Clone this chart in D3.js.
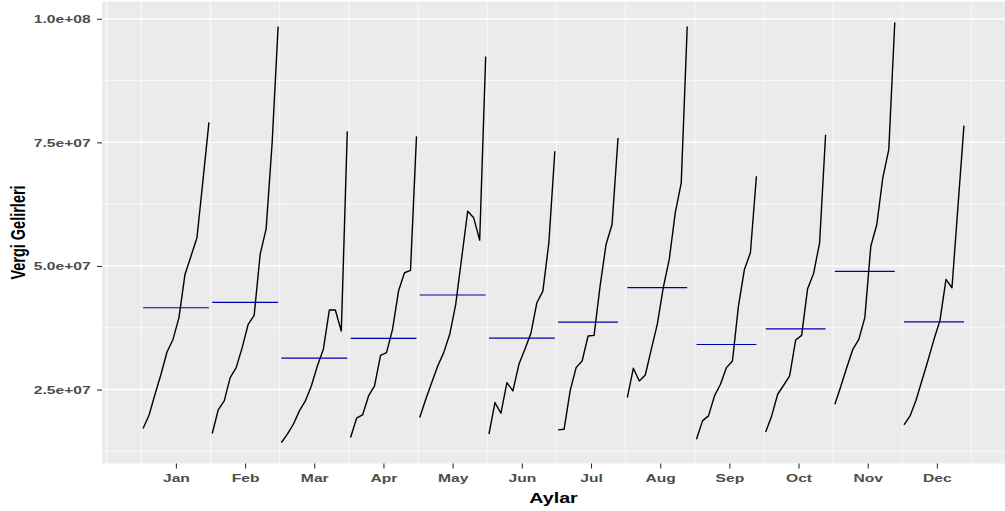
<!DOCTYPE html>
<html>
<head>
<meta charset="utf-8">
<script src="https://cdn.jsdelivr.net/npm/d3@7"></script>
<style>
  body { margin: 0; background: #fff; }
  text { font-family: "Liberation Sans", Arial, sans-serif; font-weight: bold; }
</style>
</head>
<body>
<div id="chart"></div>
<script>
// margin setting
const width = 1005;
const height = 511;
const margin = {top: 1.5, right: 0, bottom: 47.5, left: 102};
const chart_width = width - margin.left - margin.right;
const chart_height = height - margin.top - margin.bottom;

// text in the reference is stretched sideways
const stretch = 1.36;

// data: one array per month, one value per year (Jul-Dec lack the last year)
const months = ["Jan", "Feb", "Mar", "Apr", "May", "Jun", "Jul", "Aug", "Sep", "Oct", "Nov", "Dec"];
const years = [2006, 2007, 2008, 2009, 2010, 2011, 2012, 2013, 2014, 2015, 2016, 2017];

const jan = [1.712e7, 1.981e7, 2.405e7, 2.809e7, 3.259e7, 3.514e7, 3.954e7, 4.828e7, 5.198e7, 5.570e7, 6.727e7, 7.905e7];
const feb = [1.611e7, 2.088e7, 2.270e7, 2.742e7, 2.944e7, 3.348e7, 3.819e7, 4.001e7, 5.233e7, 5.751e7, 7.489e7, 9.844e7];
const mar = [1.429e7, 1.597e7, 1.799e7, 2.068e7, 2.270e7, 2.573e7, 2.977e7, 3.314e7, 4.108e7, 4.108e7, 3.684e7, 7.723e7];
const apr = [1.530e7, 1.920e7, 1.987e7, 2.371e7, 2.573e7, 3.193e7, 3.247e7, 3.718e7, 4.492e7, 4.863e7, 4.910e7, 7.622e7];
const may = [1.934e7, 2.304e7, 2.641e7, 2.977e7, 3.247e7, 3.617e7, 4.223e7, 5.166e7, 6.107e7, 5.974e7, 5.522e7, 9.238e7];
const jun = [1.597e7, 2.237e7, 2.021e7, 2.641e7, 2.472e7, 3.011e7, 3.314e7, 3.637e7, 4.257e7, 4.492e7, 5.469e7, 7.319e7];
const jul = [1.684e7, 1.698e7, 2.472e7, 2.944e7, 3.078e7, 3.583e7, 3.597e7, 4.593e7, 5.435e7, 5.839e7, 7.590e7];
const aug = [2.338e7, 2.930e7, 2.674e7, 2.795e7, 3.314e7, 3.819e7, 4.560e7, 5.132e7, 6.075e7, 6.681e7, 9.844e7];
const sep = [1.496e7, 1.866e7, 1.967e7, 2.371e7, 2.607e7, 2.944e7, 3.078e7, 4.188e7, 4.930e7, 5.267e7, 6.814e7];
const oct = [1.643e7, 1.967e7, 2.405e7, 2.587e7, 2.775e7, 3.502e7, 3.597e7, 4.540e7, 4.849e7, 5.469e7, 7.656e7];
const nov = [2.203e7, 2.567e7, 2.950e7, 3.314e7, 3.516e7, 3.954e7, 5.400e7, 5.839e7, 6.782e7, 7.353e7, 9.925e7];
const dec = [1.785e7, 1.967e7, 2.284e7, 2.688e7, 3.092e7, 3.516e7, 3.900e7, 4.728e7, 4.560e7, 6.202e7, 7.838e7];

const y_ticks = [2.5e7, 5e7, 7.5e7, 1e8];
const y_labels = ["2.5e+07", "5.0e+07", "7.5e+07", "1.0e+08"];

const monthly = [jan, feb, mar, apr, may, jun, jul, aug, sep, oct, nov, dec];

// each month gets its own slot, years spread inside it
const season_width = (years.length - 1) * 1.05;
const series = monthly.map((vals, i) => {
  const pts = vals.map((v, j) => ({t: i + 1 + 0.025 + j / season_width, v: v}));
  return {pts: pts, avg: d3.mean(vals)};
});

const all_pts = series.flatMap(s => s.pts);
const t_ext = d3.extent(all_pts, d => d.t);
const v_ext = d3.extent(all_pts, d => d.v);
const t_pad = (t_ext[1] - t_ext[0]) * 0.05;
const v_pad = (v_ext[1] - v_ext[0]) * 0.05;

var x_scale = d3.scaleLinear()
    .domain([t_ext[0] - t_pad, t_ext[1] + t_pad])
    .range([0, chart_width]);

var y_scale = d3.scaleLinear()
    .domain([v_ext[0] - v_pad, v_ext[1] + v_pad])
    .range([chart_height, 0]);

var svg = d3.select("#chart")
    .append("svg")
    .attr("width", width)
    .attr("height", height)
    .append("g")
    .attr("transform", `translate(${margin.left}, ${margin.top})`);

// panel
svg.append("rect")
    .attr("width", chart_width)
    .attr("height", chart_height)
    .attr("fill", "#EBEBEB");

// minor grid (vertical lines are only minor ones in this plot type)
const minor_x = d3.range(0.5, 13.01, 0.5).filter(t => t === Math.round(t) || t === 0.5)
    .filter(t => t >= x_scale.domain()[0] && t <= x_scale.domain()[1]);
const minor_y = [1.25e7, 3.75e7, 6.25e7, 8.75e7];

svg.selectAll(".minor-x")
    .data(minor_x)
    .enter()
    .append("line")
    .attr("x1", d => x_scale(d)).attr("x2", d => x_scale(d))
    .attr("y1", 0).attr("y2", chart_height)
    .attr("stroke", "#fff").attr("stroke-width", 0.7);

svg.selectAll(".minor-y")
    .data(minor_y)
    .enter()
    .append("line")
    .attr("x1", 0).attr("x2", chart_width)
    .attr("y1", d => y_scale(d)).attr("y2", d => y_scale(d))
    .attr("stroke", "#fff").attr("stroke-width", 0.7);

svg.selectAll(".major-y")
    .data(y_ticks)
    .enter()
    .append("line")
    .attr("x1", 0).attr("x2", chart_width)
    .attr("y1", d => y_scale(d)).attr("y2", d => y_scale(d))
    .attr("stroke", "#fff").attr("stroke-width", 1.4);

// yearly lines per month
var line = d3.line()
    .x(d => x_scale(d.t))
    .y(d => y_scale(d.v));

svg.selectAll(".month")
    .data(series)
    .enter()
    .append("path")
    .attr("d", d => line(d.pts))
    .attr("fill", "none")
    .attr("stroke", "#000")
    .attr("stroke-width", 1.4)
    .attr("stroke-linejoin", "round");

// mean line per month
svg.selectAll(".avg")
    .data(series)
    .enter()
    .append("line")
    .attr("x1", d => x_scale(d.pts[0].t))
    .attr("x2", d => x_scale(d.pts[d.pts.length - 1].t))
    .attr("y1", d => y_scale(d.avg))
    .attr("y2", d => y_scale(d.avg))
    .attr("stroke", "#0000AA")
    .attr("stroke-width", 1.2);

// X-axis
var x_axis = d3.axisBottom(x_scale)
    .tickValues(months.map((m, i) => i + 1.5))
    .tickFormat((d, i) => months[i])
    .tickSize(5)
    .tickSizeOuter(0);

var gx = svg.append("g")
   .attr("transform", `translate(0, ${chart_height})`)
   .call(x_axis);
gx.select(".domain").remove();
gx.selectAll("line").attr("stroke", "#333").attr("stroke-width", 1.1);
gx.selectAll("text")
   .attr("y", 19).attr("dy", 0)
   .attr("fill", "#4D4D4D")
   .attr("font-size", "11.5px")
   .attr("transform", `scale(${stretch},1)`);

// Y-axis
var y_axis = d3.axisLeft(y_scale)
    .tickValues(y_ticks)
    .tickFormat((d, i) => y_labels[i])
    .tickSize(5)
    .tickSizeOuter(0);

var gy = svg.append("g").call(y_axis);
gy.select(".domain").remove();
gy.selectAll("line").attr("stroke", "#333").attr("stroke-width", 1.1);
gy.selectAll("text")
   .attr("x", -11.3 / stretch).attr("dy", "0.35em")
   .attr("fill", "#4D4D4D")
   .attr("font-size", "11.5px")
   .attr("transform", `scale(${stretch},1)`);

// axis titles
d3.select("svg").append("text")
    .attr("transform", `translate(${margin.left + chart_width / 2}, 503) scale(${stretch},1)`)
    .attr("text-anchor", "middle")
    .attr("font-size", "14.5px")
    .attr("fill", "#000")
    .text("Aylar");

d3.select("svg").append("text")
    .attr("transform", `translate(24.5, ${margin.top + chart_height / 2}) scale(${stretch},1) rotate(-90)`)
    .attr("text-anchor", "middle")
    .attr("font-size", "14.5px")
    .attr("fill", "#000")
    .text("Vergi Gelirleri");
</script>
</body>
</html>
